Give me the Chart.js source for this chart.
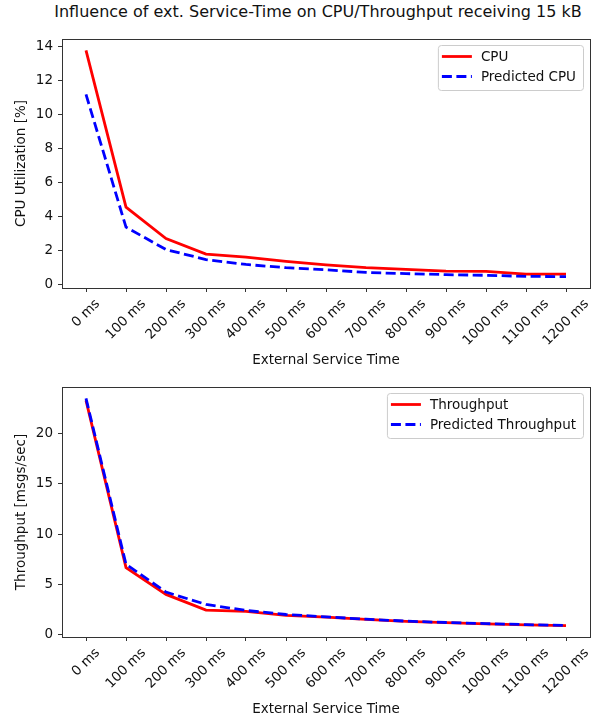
<!DOCTYPE html>
<html>
<head>
<meta charset="utf-8">
<script src="https://cdn.jsdelivr.net/npm/chart.js@4.4.1/dist/chart.umd.min.js"></script>
<style>
  body { margin: 0; background: #fff; overflow: hidden; }
  #wrap { position: relative; width: 613px; height: 721px; }
  #title {
    position: absolute; left: 0; top: 2px; width: 636px;
    text-align: center; font-family: 'DejaVu Sans', sans-serif;
    font-size: 16px; line-height: 20px; color: #111;
    white-space: nowrap;
  }
  canvas { position: absolute; left: 0; }
  #cpuChart { top: 0; }
  #tpChart { top: 372px; }
</style>
</head>
<body>
<div id="wrap">
  <div id="title">Influence of ext. Service-Time on CPU/Throughput receiving 15 kB</div>
  <canvas id="cpuChart" width="613" height="372"></canvas>
  <canvas id="tpChart" width="613" height="349"></canvas>
</div>
<script>
// data
const serviceTimes = ['0 ms', '100 ms', '200 ms', '300 ms', '400 ms', '500 ms', '600 ms',
    '700 ms', '800 ms', '900 ms', '1000 ms', '1100 ms', '1200 ms'];
const cpuMeasured = [13.8, 4.55, 2.7, 1.78, 1.6, 1.35, 1.15, 0.98, 0.88, 0.78, 0.76, 0.6, 0.6];
const cpuPredicted = [11.2, 3.37, 2.05, 1.46, 1.17, 0.98, 0.86, 0.7, 0.63, 0.57, 0.53, 0.47, 0.45];
const tpMeasured = [23.3, 6.65, 3.99, 2.42, 2.29, 1.9, 1.72, 1.5, 1.3, 1.17, 1.06, 0.96, 0.88];
const tpPredicted = [23.5, 6.98, 4.22, 2.99, 2.39, 1.99, 1.75, 1.52, 1.33, 1.19, 1.08, 0.98, 0.9];
const cpuTicks = [0, 2, 4, 6, 8, 10, 12, 14];
const tpTicks = [0, 5, 10, 15, 20];

const FONT = 'DejaVu Sans';
const AXIS_COLOR = '#333';

// matplotlib-like autoscale (5% margin)
function padRange(a, b) {
    const all = a.concat(b);
    const lo = Math.min(...all), hi = Math.max(...all);
    const m = (hi - lo) * 0.05;
    return [lo - m, hi + m];
}

function toPoints(arr) {
    return arr.map((v, i) => ({ x: i, y: v }));
}

// full box around the plot area
const frameBox = {
    id: 'frameBox',
    afterDraw(chart) {
        const a = chart.chartArea, ctx = chart.ctx;
        ctx.save();
        ctx.strokeStyle = AXIS_COLOR;
        ctx.lineWidth = 1;
        ctx.strokeRect(Math.round(a.left) + 0.5, Math.round(a.top) + 0.5,
            Math.round(a.right - a.left), Math.round(a.bottom - a.top));
        ctx.restore();
    }
};

// center rotated tick labels on their tick (like matplotlib)
const centerLabels = {
    id: 'centerLabels',
    afterLayout(chart) {
        const scale = chart.scales.x;
        const ctx = chart.ctx;
        scale.getLabelItems().forEach(item => {
            ctx.save();
            ctx.font = item.font.string;
            const w = ctx.measureText(item.label).width;
            ctx.restore();
            item.options.translation[0] += w / 2 * Math.SQRT1_2;
        });
    }
};

// legend box in the upper right corner of the plot area
const cornerLegend = {
    id: 'cornerLegend',
    afterDraw(chart) {
        const a = chart.chartArea, ctx = chart.ctx;
        const sets = chart.data.datasets.slice().sort((p, q) => p.legendIndex - q.legendIndex);
        ctx.save();
        ctx.font = '13.5px "' + FONT + '"';
        const textW = Math.max(...sets.map(d => ctx.measureText(d.label).width));
        const boxW = 43 + textW + 7;
        const boxH = 45;
        const x0 = a.right - 7 - boxW;
        const y0 = a.top + 6;
        ctx.beginPath();
        ctx.roundRect(x0 + 0.5, y0 + 0.5, boxW, boxH, 3);
        ctx.fillStyle = 'rgba(255,255,255,0.8)';
        ctx.fill();
        ctx.strokeStyle = '#ccc';
        ctx.lineWidth = 1;
        ctx.stroke();
        sets.forEach((d, i) => {
            const y = y0 + 11.5 + i * 20;
            ctx.beginPath();
            ctx.setLineDash(d.borderDash || []);
            ctx.strokeStyle = d.borderColor;
            ctx.lineWidth = d.borderWidth;
            ctx.moveTo(x0 + 4, y);
            ctx.lineTo(x0 + 34, y);
            ctx.stroke();
            ctx.setLineDash([]);
            ctx.fillStyle = '#111';
            ctx.textBaseline = 'middle';
            ctx.fillText(d.label, x0 + 43, y + 1);
        });
        ctx.restore();
    }
};

function makeChart(canvasId, labels, measured, predicted, yTitle, yTicks, padTop) {
    const [yMin, yMax] = padRange(measured, predicted);
    return new Chart(document.getElementById(canvasId), {
        type: 'line',
        data: {
            datasets: [
                {
                    label: labels[1],
                    data: toPoints(predicted),
                    borderColor: '#0000ff',
                    borderWidth: 2.8,
                    borderDash: [10, 4.5],
                    pointRadius: 0,
                    tension: 0,
                    order: 0,
                    legendIndex: 1
                },
                {
                    label: labels[0],
                    data: toPoints(measured),
                    borderColor: '#ff0000',
                    borderWidth: 2.8,
                    pointRadius: 0,
                    tension: 0,
                    order: 1,
                    legendIndex: 0
                }
            ]
        },
        options: {
            responsive: false,
            animation: false,
            layout: { padding: { top: padTop, right: 23, left: 13, bottom: 0 } },
            plugins: {
                legend: { display: false },
                tooltip: { enabled: false }
            },
            scales: {
                x: {
                    type: 'linear',
                    min: -0.6,
                    max: serviceTimes.length - 1 + 0.6,
                    afterBuildTicks: s => { s.ticks = serviceTimes.map((_, i) => ({ value: i })); },
                    afterFit: s => { s.height = 84; },
                    border: { color: AXIS_COLOR },
                    grid: { drawOnChartArea: false, drawTicks: true, tickLength: 4, color: AXIS_COLOR },
                    ticks: {
                        callback: v => serviceTimes[v],
                        minRotation: 45,
                        maxRotation: 45,
                        padding: 4,
                        color: '#111',
                        font: { family: FONT, size: 13.5 }
                    },
                    title: {
                        display: true,
                        text: 'External Service Time',
                        color: '#111',
                        padding: { top: 0, bottom: 3 },
                        font: { family: FONT, size: 13.5 }
                    }
                },
                y: {
                    min: yMin,
                    max: yMax,
                    afterBuildTicks: s => { s.ticks = yTicks.map(v => ({ value: v })); },
                    afterFit: s => { s.width = 62 - 13; },
                    border: { color: AXIS_COLOR },
                    grid: { drawOnChartArea: false, drawTicks: true, tickLength: 4, color: AXIS_COLOR },
                    ticks: {
                        padding: 5,
                        color: '#111',
                        font: { family: FONT, size: 13.5 }
                    },
                    title: {
                        display: true,
                        text: yTitle,
                        color: '#111',
                        padding: { top: 0, bottom: 0 },
                        font: { family: FONT, size: 13.5 }
                    }
                }
            }
        },
        plugins: [centerLabels, frameBox, cornerLegend]
    });
}

makeChart('cpuChart', ['CPU', 'Predicted CPU'], cpuMeasured, cpuPredicted,
    'CPU Utilization [%]', cpuTicks, 39);
makeChart('tpChart', ['Throughput', 'Predicted Throughput'], tpMeasured, tpPredicted,
    'Throughput [msgs/sec]', tpTicks, 15);
</script>
</body>
</html>
